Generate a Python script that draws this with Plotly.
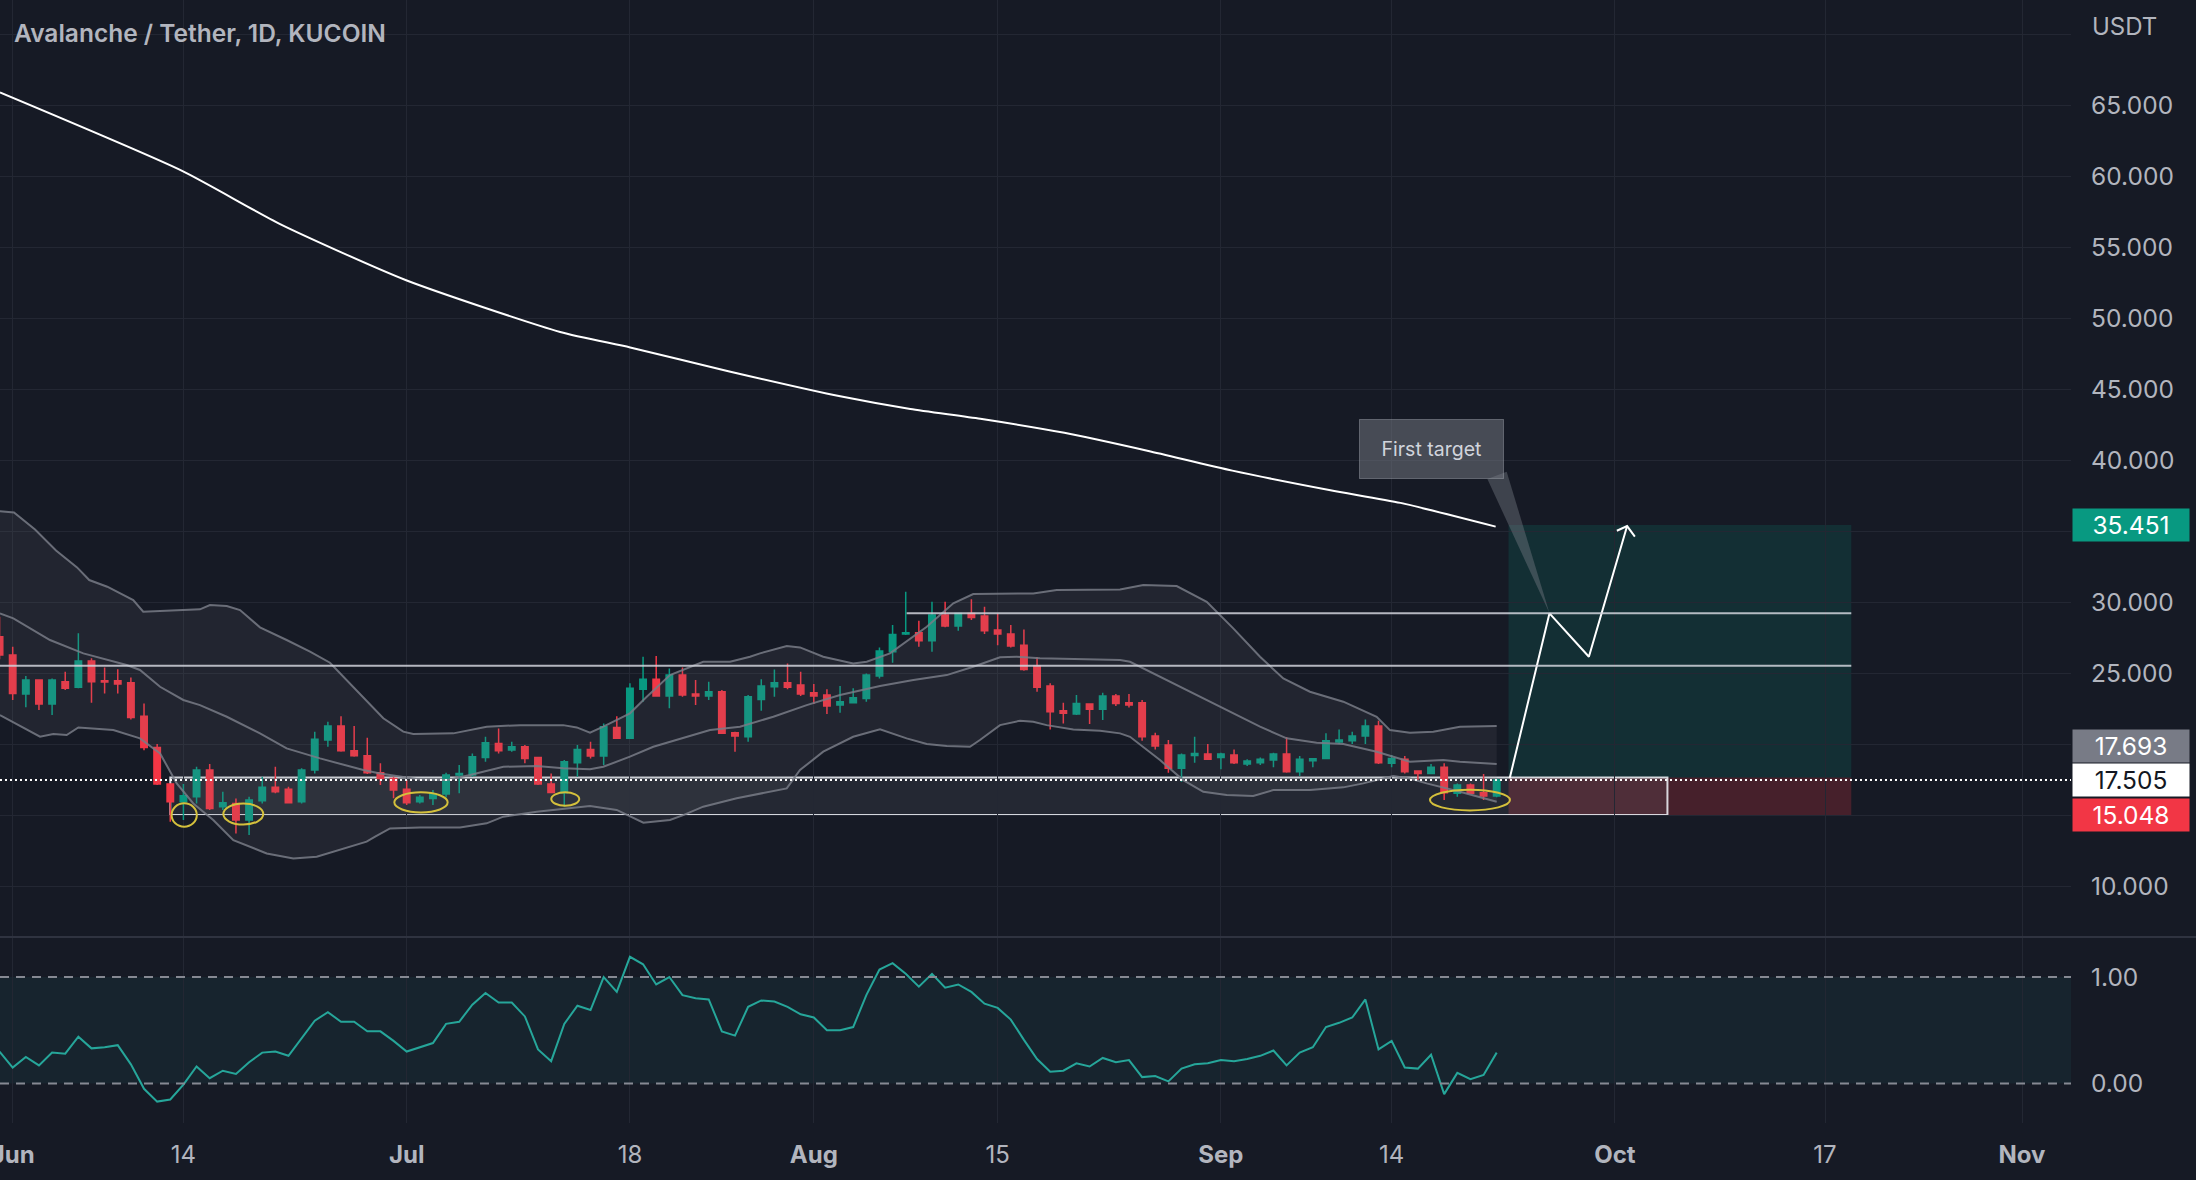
import pandas as pd
import plotly.graph_objects as go

# ---------------- data ----------------
BASE = pd.Timestamp("2022-06-01")


def day(d):
    return (BASE + pd.Timedelta(days=d)).round("min").strftime("%Y-%m-%d %H:%M")


dates = [d.strftime("%Y-%m-%d") for d in pd.date_range("2022-05-31", "2022-09-22", freq="D")]

opens = [27.59, 26.30, 23.56, 24.54, 22.85, 24.43, 24.03, 25.88, 24.50, 24.50,
         24.35, 22.00, 19.80, 17.22, 15.98, 16.33, 18.21, 15.63, 15.86, 14.69,
         16.05, 16.99, 16.85, 15.98, 18.21, 20.32, 21.30, 19.57, 19.22, 18.02,
         17.62, 16.85, 15.98, 16.21, 16.52, 17.86, 17.86, 19.10, 20.08, 19.62,
         19.85, 19.10, 17.22, 16.61, 18.73, 19.66, 19.20, 21.21, 20.44, 23.89,
         24.59, 23.42, 24.89, 23.56, 23.42, 23.72, 20.84, 20.55, 23.18, 24.07,
         24.35, 24.19, 23.65, 23.49, 22.78, 22.95, 23.25, 24.82, 26.53, 27.78,
         27.87, 27.31, 29.12, 28.34, 29.23, 29.05, 28.06, 27.78, 27.00, 25.53,
         24.12, 22.38, 22.15, 22.85, 22.48, 23.42, 22.95, 22.95, 20.60, 19.97,
         18.33, 19.24, 19.33, 19.10, 19.27, 18.63, 18.73, 18.91, 19.33, 18.09,
         18.86, 19.03, 20.18, 20.27, 20.60, 21.30, 18.68, 18.96, 18.14, 17.97,
         18.40, 16.57, 17.15, 16.61, 16.38]
highs = [29.00, 26.89, 24.83, 24.60, 24.66, 25.13, 27.83, 26.07, 25.43, 25.30,
         24.73, 22.90, 20.04, 17.27, 17.22, 18.44, 18.63, 16.68, 16.21, 16.33,
         17.74, 18.44, 17.04, 18.33, 20.91, 21.61, 22.00, 21.30, 20.48, 18.68,
         17.74, 17.50, 16.45, 16.80, 18.02, 18.56, 19.38, 20.55, 21.14, 20.20,
         19.97, 19.15, 17.97, 18.91, 19.97, 20.20, 21.49, 22.00, 24.31, 26.18,
         26.23, 25.36, 25.43, 24.54, 24.43, 23.84, 20.90, 23.49, 24.59, 25.29,
         25.71, 25.13, 24.26, 23.89, 24.12, 23.96, 25.01, 26.84, 28.41, 30.76,
         28.72, 30.05, 30.05, 29.28, 30.22, 29.70, 29.23, 28.41, 28.10, 26.14,
         24.31, 22.95, 23.49, 22.90, 23.65, 23.56, 23.56, 23.14, 20.84, 20.32,
         19.38, 20.55, 20.04, 19.43, 19.66, 18.96, 19.10, 19.43, 20.51, 19.19,
         19.03, 20.79, 21.07, 20.90, 21.77, 21.68, 19.27, 19.19, 18.20, 18.63,
         18.68, 17.27, 17.27, 17.93, 17.60]
lows = [26.00, 23.14, 22.62, 22.43, 22.08, 23.84, 23.96, 22.95, 23.60, 23.60,
        21.77, 19.60, 17.15, 14.57, 14.69, 15.86, 15.40, 15.40, 13.75, 13.63,
        15.86, 16.57, 15.86, 15.86, 17.97, 19.85, 19.50, 19.15, 17.93, 17.15,
        16.22, 15.75, 15.86, 15.75, 16.29, 16.57, 17.74, 18.80, 19.38, 19.50,
        18.68, 17.15, 16.57, 15.63, 17.74, 19.03, 18.56, 20.40, 20.40, 23.02,
        23.37, 22.55, 23.37, 22.78, 23.14, 20.75, 19.50, 20.20, 22.38, 23.37,
        23.89, 23.42, 22.85, 22.15, 22.24, 22.90, 23.02, 24.66, 25.76, 27.71,
        26.89, 26.53, 28.25, 28.01, 28.76, 27.78, 27.00, 26.84, 25.20, 23.72,
        21.07, 21.49, 22.08, 21.45, 21.73, 22.71, 22.61, 20.27, 19.66, 18.02,
        17.39, 18.73, 18.91, 18.26, 18.63, 18.49, 18.56, 18.40, 18.02, 17.79,
        18.40, 18.96, 20.04, 20.04, 20.04, 18.63, 18.40, 17.97, 17.50, 17.93,
        16.10, 16.33, 16.52, 16.10, 16.29]
closes = [26.30, 23.60, 24.54, 22.85, 24.54, 23.96, 25.88, 24.43, 24.40, 24.26,
          21.90, 19.80, 17.22, 15.98, 16.40, 18.21, 15.51, 15.91, 14.69, 16.10,
          16.99, 16.68, 15.91, 18.21, 20.37, 21.30, 19.57, 19.22, 18.02, 17.62,
          16.80, 15.91, 16.29, 16.52, 17.86, 17.97, 19.15, 20.13, 19.57, 19.85,
          19.03, 17.22, 16.63, 18.80, 19.66, 19.20, 21.26, 20.44, 23.96, 24.59,
          23.42, 24.89, 23.49, 23.42, 23.72, 20.79, 20.60, 23.37, 24.12, 24.35,
          24.03, 23.56, 23.42, 22.71, 23.02, 23.30, 24.89, 26.58, 27.75, 27.87,
          27.31, 29.12, 28.34, 29.23, 28.95, 28.01, 27.78, 26.93, 25.29, 24.03,
          22.31, 22.20, 22.90, 22.48, 23.42, 22.90, 22.78, 20.55, 19.90, 18.33,
          19.27, 19.38, 18.96, 19.33, 18.73, 18.84, 18.96, 19.33, 18.09, 18.96,
          19.00, 20.27, 20.32, 20.60, 21.30, 18.73, 19.03, 18.09, 17.97, 18.40,
          16.61, 17.15, 16.57, 16.38, 17.505]

# lower-pane oscillator
osc = [0.30, 0.15, 0.25, 0.17, 0.29, 0.28, 0.44, 0.33, 0.34, 0.36,
       0.18, -0.05, -0.17, -0.15, -0.01, 0.16, 0.05, 0.12, 0.09, 0.20,
       0.29, 0.30, 0.26, 0.43, 0.59, 0.67, 0.58, 0.58, 0.49, 0.49,
       0.40, 0.30, 0.34, 0.38, 0.56, 0.58, 0.74, 0.85, 0.76, 0.76,
       0.63, 0.32, 0.21, 0.56, 0.73, 0.69, 1.00, 0.86, 1.19, 1.12,
       0.93, 1.00, 0.83, 0.80, 0.79, 0.49, 0.45, 0.72, 0.78, 0.77,
       0.72, 0.65, 0.62, 0.50, 0.50, 0.53, 0.83, 1.07, 1.13, 1.03,
       0.91, 1.03, 0.90, 0.93, 0.86, 0.75, 0.71, 0.60, 0.41, 0.23,
       0.11, 0.12, 0.19, 0.16, 0.24, 0.20, 0.22, 0.06, 0.07, 0.02,
       0.14, 0.18, 0.19, 0.22, 0.21, 0.23, 0.26, 0.31, 0.17, 0.29,
       0.34, 0.53, 0.57, 0.62, 0.79, 0.32, 0.40, 0.15, 0.14, 0.27,
       -0.10, 0.10, 0.04, 0.08, 0.29]

# Bollinger bands (day offset from 1 Jun, value)
bb_upper_days = [-1.0, 0.1, 1.7, 3.3, 4.9, 5.83, 7.2, 9.18, 9.94, 14.26, 15.02, 16.3, 17.31, 18.83,
                 20.86, 22.64, 24.16, 25.93, 27.21, 28.22, 29.74, 30.5, 33.55, 34.82, 36.09, 38.63,
                 41.92, 42.95, 43.96, 44.97, 47.0, 48.28, 50.05, 52.58, 54.62, 56.14, 56.9, 58.94,
                 59.95, 61.72, 64.0, 65.03, 66.8, 69.6, 71.62, 73.14, 74.93, 77.71, 79.5, 84.32,
                 86.09, 88.63, 90.92, 92.94, 94.98, 96.75, 98.78, 101.32, 103.86, 104.87, 106.39,
                 108.17, 110.2, 113.0]
bb_upper = [36.43, 36.33, 35.14, 33.66, 32.47, 31.58, 31.11, 30.17, 29.35, 29.52, 29.82, 29.75, 29.47,
            28.25, 27.36, 26.54, 25.76, 24.07, 22.78, 21.85, 20.91, 20.74, 20.79, 21.02, 21.26, 21.37,
            21.37, 21.21, 20.84, 21.26, 22.20, 23.37, 24.89, 25.83, 25.83, 26.18, 26.42, 26.93, 26.84,
            26.18, 25.71, 25.83, 26.42, 28.29, 29.94, 30.59, 30.59, 30.64, 30.88, 30.92, 31.23, 31.16,
            30.05, 28.18, 26.18, 24.66, 23.72, 23.02, 21.96, 21.02, 20.84, 20.90, 21.26, 21.30]
bb_basis_days = [-0.97, 0.05, 2.84, 5.38, 8.68, 9.69, 11.22, 12.99, 14.26, 16.3, 18.83, 20.86, 23.4,
                 26.7, 27.97, 31.01, 33.05, 34.82, 37.36, 39.9, 41.92, 43.96, 44.97, 47.0, 48.78,
                 51.32, 53.1, 55.38, 57.92, 60.46, 63.0, 66.04, 68.58, 71.12, 73.14, 75.18, 76.45,
                 78.22, 80.76, 84.32, 85.08, 87.36, 89.9, 92.44, 94.98, 97.01, 99.29, 101.32, 103.86,
                 106.39, 108.93, 110.2, 113.0]
bb_basis = [29.23, 28.88, 27.36, 26.42, 25.60, 25.25, 24.07, 23.14, 22.78, 21.96, 20.79, 19.73, 19.03,
            18.21, 17.97, 17.55, 17.50, 17.86, 18.44, 18.49, 18.33, 18.26, 18.44, 19.15, 19.85, 20.56,
            21.02, 21.26, 21.96, 22.78, 23.49, 24.12, 24.54, 24.89, 25.48, 26.14, 26.18, 26.07, 26.00,
            25.95, 25.83, 24.78, 23.60, 22.43, 21.26, 20.44, 20.13, 20.04, 19.50, 18.80, 18.91, 18.80,
            18.63]
bb_lower_days = [-0.97, 2.08, 3.09, 4.11, 5.0, 7.66, 9.69, 11.22, 12.49, 13.75, 15.27, 16.8, 19.34,
                 21.37, 23.15, 24.92, 26.95, 27.6, 28.73, 31.01, 34.06, 36.09, 37.36, 39.9, 42.43,
                 43.96, 45.99, 48.02, 50.05, 51.06, 52.58, 55.13, 58.94, 59.95, 61.72, 64.0, 66.04,
                 68.07, 69.6, 71.12, 72.89, 73.65, 75.18, 76.7, 77.71, 78.73, 80.76, 82.8, 84.32,
                 85.08, 87.36, 89.13, 90.66, 92.44, 94.46, 95.99, 98.78, 101.32, 102.84, 104.36,
                 105.12, 106.39, 107.66, 110.2, 113.0]
bb_lower = [22.08, 20.56, 20.74, 20.67, 21.21, 21.02, 20.44, 19.38, 17.27, 15.86, 14.69, 13.28, 12.34,
            11.99, 12.11, 12.58, 13.17, 13.52, 14.10, 14.17, 14.17, 14.46, 14.93, 15.28, 15.51, 15.68,
            15.40, 14.50, 14.69, 15.04, 15.63, 16.22, 16.92, 18.21, 19.50, 20.55, 21.07, 20.44, 20.04,
            19.90, 19.85, 20.32, 21.37, 21.68, 21.61, 21.37, 21.07, 20.98, 20.79, 20.55, 18.91, 17.50,
            16.68, 16.45, 16.38, 16.80, 16.80, 16.99, 17.27, 17.62, 17.78, 17.62, 17.27, 16.68, 15.98]

# 200-day moving average
ma_days = [-0.97, 12.90, 20.36, 29.96, 41.69, 47.02, 54.49, 63.01, 68.35, 73.68, 80.08, 86.48,
           92.87, 100.34, 105.67, 112.92]
ma_vals = [65.89, 60.37, 56.63, 52.68, 49.04, 47.95, 46.28, 44.51, 43.62, 42.93, 41.94, 40.66,
           39.28, 37.90, 37.01, 35.34]

# drawn levels / trade setup
level_low = 25.55
level_high = 29.24
range_bottom = 15.048
entry = 17.693
last_price = 17.505
target = 35.451

proj_days = [113.99, 117.02, 120.02, 122.93]
proj_vals = [17.63, 29.24, 26.18, 35.38]

tick_dates = ["2022-06-01", "2022-06-14", "2022-07-01", "2022-07-18", "2022-08-01", "2022-08-15",
              "2022-09-01", "2022-09-14", "2022-10-01", "2022-10-17", "2022-11-01"]
tick_labels = ["Jun", "14", "Jul", "18", "Aug", "15", "Sep", "14", "Oct", "17", "Nov"]
price_ticks = [10, 15, 20, 25, 30, 35, 40, 45, 50, 55, 60, 65, 70]
price_hidden = {15, 20, 35, 70}

# ---------------- styling ----------------
BG = "#161a25"
GRID = "#232733"
TXT = "#b2b5be"
UP = "#089981"
DOWN = "#f23645"
BAND = "rgba(120,123,134,0.85)"
FONT = "Inter"
AX = 24.5

fig = go.Figure()

# Bollinger fill
fig.add_trace(go.Scatter(
    x=[day(d) for d in bb_upper_days] + [day(d) for d in bb_lower_days[::-1]],
    y=bb_upper + bb_lower[::-1],
    fill="toself", fillcolor="rgba(120,123,134,0.12)", line=dict(width=0),
    mode="lines", hoverinfo="skip", showlegend=False))
for dd, vv in [(bb_upper_days, bb_upper), (bb_basis_days, bb_basis), (bb_lower_days, bb_lower)]:
    fig.add_trace(go.Scatter(x=[day(d) for d in dd], y=vv, mode="lines",
                             line=dict(color=BAND, width=2), hoverinfo="skip", showlegend=False))

# candles
fig.add_trace(go.Candlestick(
    x=dates, open=opens, high=highs, low=lows, close=closes,
    increasing=dict(line=dict(color=UP, width=1.5), fillcolor=UP),
    decreasing=dict(line=dict(color=DOWN, width=1.5), fillcolor=DOWN),
    whiskerwidth=0, showlegend=False, hoverinfo="skip"))

# 200 MA
fig.add_trace(go.Scatter(x=[day(d) for d in ma_days], y=ma_vals, mode="lines",
                         line=dict(color="#ffffff", width=2, shape="spline", smoothing=0.6),
                         hoverinfo="skip", showlegend=False))

# callout tail
fig.add_trace(go.Scatter(x=[day(112.29), day(117.02), day(113.76), day(112.29)],
                         y=[38.69, 29.24, 39.2, 38.69], mode="lines", fill="toself",
                         fillcolor="rgba(120,123,134,0.42)", line=dict(width=0),
                         hoverinfo="skip", showlegend=False))

# projection path + arrow head
fig.add_trace(go.Scatter(x=[day(d) for d in proj_days], y=proj_vals, mode="lines",
                         line=dict(color="#ffffff", width=2), hoverinfo="skip", showlegend=False))
fig.add_trace(go.Scatter(x=[day(122.15), day(122.93), day(123.52)], y=[35.05, 35.38, 34.63],
                         mode="lines", line=dict(color="#ffffff", width=2),
                         hoverinfo="skip", showlegend=False))

# oscillator
fig.add_trace(go.Scatter(x=dates, y=osc, mode="lines", line=dict(color="#26a69a", width=2),
                         yaxis="y2", hoverinfo="skip", showlegend=False))

shapes = []
# oscillator band
shapes.append(dict(type="rect", xref="paper", x0=0, x1=1, yref="y2", y0=0, y1=1,
                   fillcolor="rgba(38,166,154,0.08)", line=dict(width=0), layer="below"))
for v in (0, 1):
    shapes.append(dict(type="line", xref="paper", x0=0, x1=1, yref="y2", y0=v, y1=v,
                       line=dict(color="#868993", width=2, dash="9px,7px"), layer="above"))
# pane separator
shapes.append(dict(type="line", xref="paper", x0=0, x1=2196 / 2071, yref="paper",
                   y0=0.16563, y1=0.16563, line=dict(color="#2f3340", width=2)))
# long position boxes
shapes.append(dict(type="rect", xref="x", yref="y", x0=day(113.9), x1=day(140.0), y0=entry, y1=target,
                   fillcolor="rgba(8,153,129,0.17)", line=dict(width=0), layer="below"))
shapes.append(dict(type="rect", xref="x", yref="y", x0=day(113.9), x1=day(140.0), y0=range_bottom, y1=entry,
                   fillcolor="rgba(242,54,69,0.22)", line=dict(width=0), layer="below"))
# accumulation range box
shapes.append(dict(type="rect", xref="x", yref="y", x0=day(12.0), x1=day(126.0), y0=range_bottom, y1=entry,
                   fillcolor="rgba(180,184,196,0.09)", line=dict(color="rgba(232,234,240,0.9)", width=2),
                   layer="below"))
# horizontal levels
shapes.append(dict(type="line", xref="x", yref="y", x0=day(-1.0), x1=day(140.0), y0=level_low, y1=level_low,
                   line=dict(color="rgba(209,212,220,0.85)", width=2)))
shapes.append(dict(type="line", xref="x", yref="y", x0=day(68.07), x1=day(140.0), y0=level_high, y1=level_high,
                   line=dict(color="rgba(209,212,220,0.85)", width=2)))
# last price dotted line
shapes.append(dict(type="line", xref="paper", x0=0, x1=1, yref="y", y0=last_price, y1=last_price,
                   line=dict(color="#ffffff", width=2, dash="2px,3px")))
# yellow ellipses
for x0, x1, y0, y1 in [(12.1, 14.02, 14.22, 15.87), (16.04, 19.08, 14.37, 15.85),
                       (29.06, 33.12, 15.23, 16.64), (41.01, 43.14, 15.70, 16.64),
                       (107.92, 114.01, 15.37, 16.82)]:
    shapes.append(dict(type="circle", xref="x", yref="y", x0=day(x0), x1=day(x1), y0=y0, y1=y1,
                       line=dict(color="#d4c03c", width=2)))

annotations = []
annotations.append(dict(text="Avalanche / Tether, 1D, KUCOIN", xref="paper", yref="paper", x=0, y=1,
                        xanchor="left", yanchor="top", xshift=12, yshift=-16, showarrow=False,
                        font=dict(family=FONT, size=24.5, color=TXT, weight=600)))
annotations.append(dict(text="USDT", xref="paper", yref="paper", x=1, y=1, xanchor="left", yanchor="top",
                        xshift=19, yshift=-10, showarrow=False, font=dict(family=FONT, size=24, color=TXT)))
annotations.append(dict(text="First target", x=day(108.04), y=40.8, xref="x", yref="y", showarrow=False,
                        bgcolor="rgba(120,123,134,0.5)", bordercolor="rgba(160,163,172,0.45)", borderwidth=1,
                        width=141, height=56, borderpad=1,
                        font=dict(family=FONT, size=19.5, color="#d1d4dc")))
for val, bg, fg, ys in [(target, UP, "#ffffff", 0), (entry, "#787b86", "#ffffff", 31),
                        (last_price, "#ffffff", "#131722", 0), (range_bottom, DOWN, "#ffffff", 0)]:
    annotations.append(dict(text=f"{val:.3f}", xref="paper", yref="y", x=1, y=val, xanchor="left",
                            yanchor="middle", xshift=1, yshift=ys, showarrow=False, bgcolor=bg,
                            width=112, height=28, borderpad=2,
                            font=dict(family=FONT, size=AX, color=fg)))

ticktext = [f"<b>{t}</b>" if t.isalpha() else t for t in tick_labels]

fig.update_layout(
    width=2196, height=1180,
    margin=dict(l=0, r=125, t=0, b=57, pad=0, autoexpand=False),
    paper_bgcolor=BG, plot_bgcolor=BG,
    showlegend=False, boxgap=0.3,
    font=dict(family=FONT, color=TXT, size=AX),
    shapes=shapes, annotations=annotations,
    xaxis=dict(type="date", range=[day(-0.967), day(156.73)], anchor="y2", automargin=False,
               tickvals=tick_dates, ticktext=ticktext, showgrid=True, gridcolor=GRID, gridwidth=1,
               zeroline=False, showline=False, ticks="", ticklabelstandoff=15,
               ticklabeloverflow="allow", rangeslider=dict(visible=False),
               tickfont=dict(family=FONT, size=24, color=TXT)),
    yaxis=dict(domain=[0.16563, 1], range=[6.46, 72.40], side="right", anchor="x", automargin=False,
               tickvals=price_ticks,
               ticktext=["" if v in price_hidden else f"{v:.3f}" for v in price_ticks],
               showgrid=True, gridcolor=GRID, gridwidth=1, zeroline=False, ticks="",
               ticklabelstandoff=19, tickfont=dict(family=FONT, size=AX, color=TXT)),
    yaxis2=dict(domain=[0, 0.16563], range=[-0.371, 1.376], side="right", anchor="x", automargin=False,
                tickvals=[0, 1], ticktext=["0.00", "1.00"], showgrid=False, zeroline=False,
                ticks="", ticklabelstandoff=19, tickfont=dict(family=FONT, size=AX, color=TXT)),
)

fig.write_html("out.html", config={"displayModeBar": False})
